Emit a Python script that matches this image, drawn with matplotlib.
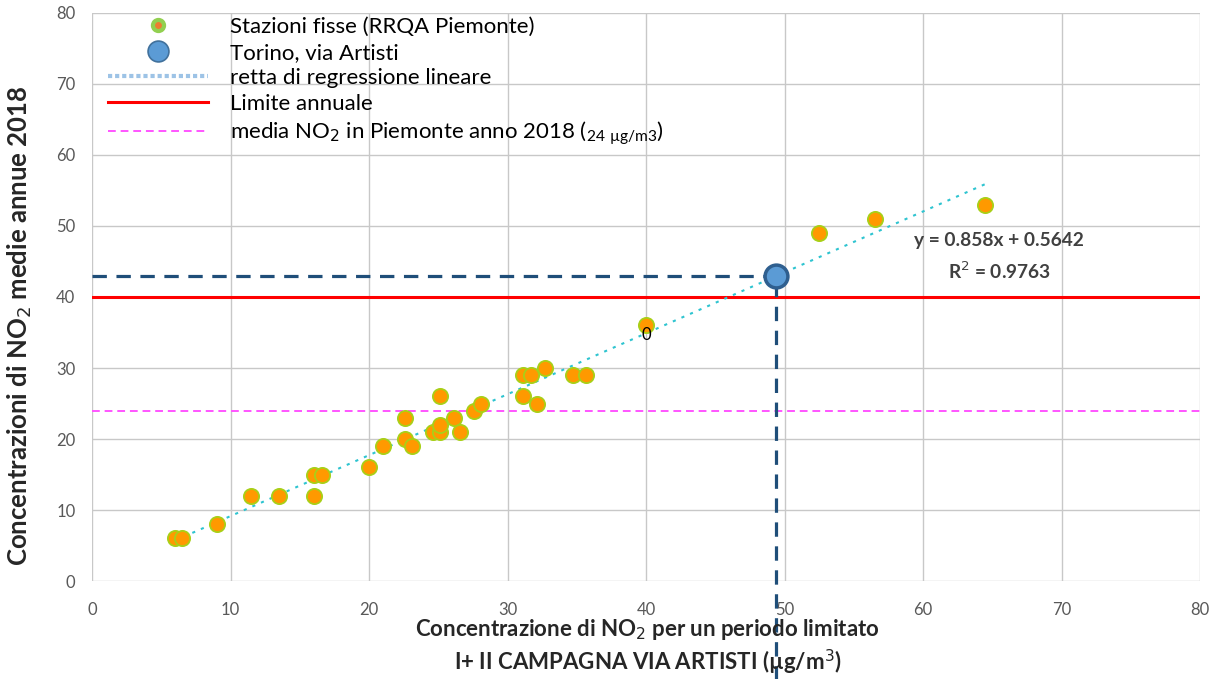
import numpy as np
import matplotlib.pyplot as plt
from matplotlib.lines import Line2D

# Stazioni fisse RRQA: campagna (x) vs media annua 2018 (y)
staz_x = [6.0, 6.5, 9.0, 11.5, 13.5, 16.0, 16.0, 16.6, 20.0, 21.0, 22.6, 23.1, 22.6,
          24.6, 25.1, 25.1, 25.1, 26.1, 26.6, 27.6, 28.1, 31.1, 31.7, 32.7, 31.1,
          32.1, 34.7, 35.7, 40.0, 52.5, 56.5, 64.5]
staz_y = [6, 6, 8, 12, 12, 12, 15, 15, 16, 19, 20, 19, 23,
          21, 21, 22, 26, 23, 21, 24, 25, 29, 29, 30, 26,
          25, 29, 29, 36, 49, 51, 53]

# Torino, via Artisti
artisti_x = 49.4
artisti_y = 42.9

# retta di regressione
slope = 0.858
intercept = 0.5642
r2 = 0.9763
reg_x = [6.0, 64.5]

limite_annuale = 40
media_piemonte = 24

xticks = list(range(0, 81, 10))
yticks = list(range(0, 81, 10))

plt.rcParams['font.family'] = ['Lato', 'DejaVu Sans']

fig = plt.figure(figsize=(12.24, 6.79), dpi=100)
ax = fig.add_axes([0.0752, 0.1443, 0.9052, 0.8366])

ax.set_xlim(0, 80)
ax.set_ylim(0, 80)
ax.set_xticks(xticks)
ax.set_yticks(yticks)
ax.grid(True, color='#c8c8c8', linewidth=1)
ax.set_axisbelow(True)
for s in ax.spines.values():
    s.set_visible(False)
ax.tick_params(length=0, labelsize=12, labelcolor='#595959')
ax.tick_params(axis='x', pad=15)
ax.tick_params(axis='y', pad=12)

# linee di riferimento
ax.axhline(limite_annuale, color='#ff0000', linewidth=2.2, zorder=2)
ax.axhline(media_piemonte, color='#ff55ff', linewidth=1.4, dashes=(4, 2.5), zorder=2)

# regressione
reg_y = [slope * v + intercept for v in reg_x]
ax.plot(reg_x, reg_y, color='#2ec4d0', linewidth=1.5, dashes=(1.5, 3), zorder=3)

# proiezioni di via Artisti
ax.plot([0, artisti_x], [artisti_y, artisti_y], color='#1f4e79', linewidth=2.3,
        dashes=(4.5, 3), zorder=3)
ax.plot([artisti_x, artisti_x], [-14, artisti_y], color='#1f4e79', linewidth=2.3,
        dashes=(4.5, 3), zorder=3, clip_on=False)

ax.scatter(staz_x, staz_y, s=120, color='#ff9900', edgecolor='#a8d018',
           linewidth=1.3, zorder=4)
ax.scatter([artisti_x], [artisti_y], s=270, color='#5b9bd5', edgecolor='#2f5f8f',
           linewidth=2.5, zorder=5)

ax.text(40, 34.6, '0', ha='center', va='center', fontsize=12, color='black', zorder=6)

ax.text(65.5, 48.0, 'y = 0.858x + 0.5642', ha='center', va='center',
        fontsize=13.8, fontweight='bold', color='#404040')
ax.text(65.5, 43.6, 'R$^2$ = %.4f' % r2, ha='center', va='center',
        fontsize=13.8, fontweight='bold', color='#404040')

handles = [
    Line2D([], [], linestyle='none', marker='o', markersize=8,
           markerfacecolor='#ed7d31', markeredgecolor='#92d050', markeredgewidth=3),
    Line2D([], [], linestyle='none', marker='o', markersize=15,
           markerfacecolor='#5b9bd5', markeredgecolor='#41719c', markeredgewidth=1.2),
    Line2D([], [], color='#9dc3e6', linewidth=3, linestyle=(0, (1, 0.7))),
    Line2D([], [], color='#ff0000', linewidth=2.2),
    Line2D([], [], color='#ff55ff', linewidth=1.4, dashes=(4, 2.5)),
]
labels = [
    'Stazioni fisse (RRQA Piemonte)',
    'Torino, via Artisti',
    'retta di regressione lineare',
    'Limite annuale',
    'media NO$_2$ in Piemonte anno 2018 ($\\mathregular{_{24\\ µg/m3}}$)',
]
leg = ax.legend(handles, labels, loc='upper left', bbox_to_anchor=(0.0, 1.02),
                frameon=False, fontsize=16, handlelength=4.5, handletextpad=1.0,
                labelspacing=0.25, borderaxespad=0.3)

ax.set_ylabel('Concentrazioni di NO$_2$ medie annue 2018', fontsize=18.5,
              fontweight='bold', color='#262626')
ax.yaxis.set_label_coords(-0.052, 0.449)
fig.text(0.529, 0.073, 'Concentrazione di NO$_2$ per un periodo limitato',
         ha='center', va='center', fontsize=16, fontweight='bold', color='#262626')
fig.text(0.529, 0.025, 'I+ II CAMPAGNA VIA ARTISTI (µg/m$^3$)',
         ha='center', va='center', fontsize=16, fontweight='bold', color='#262626')

fig.savefig('out.png', dpi=100)
